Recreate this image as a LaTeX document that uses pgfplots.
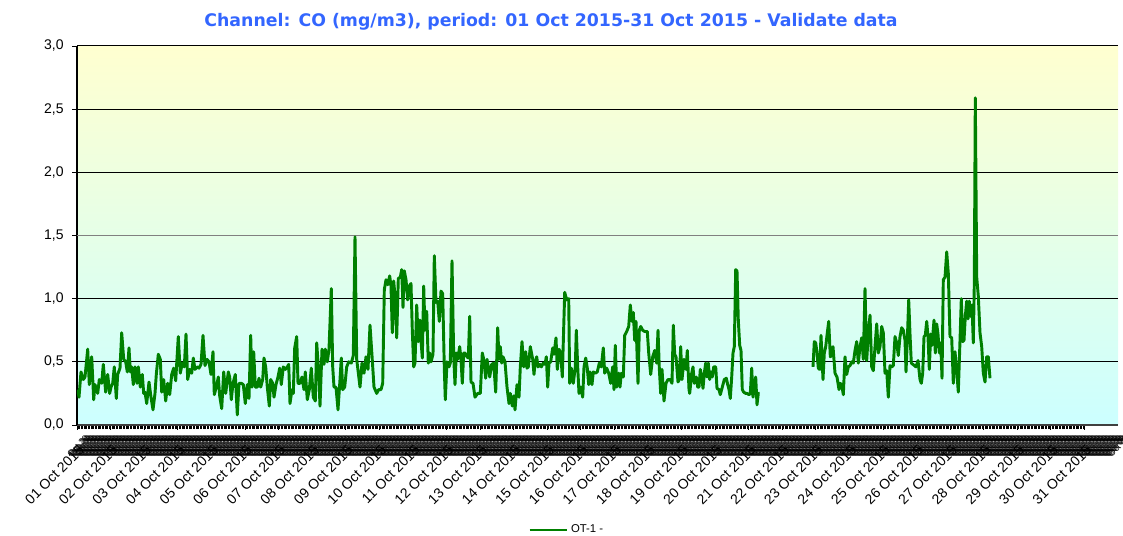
\documentclass[border=0pt]{standalone}
\usepackage{pgfplots}
\pgfplotsset{compat=1.18}
\usepackage{pgfplotstable}
\usepackage{fontspec}
\setmainfont{Liberation Sans}
\newfontfamily\titlefont{DejaVu Sans}
\definecolor{linegreen}{RGB}{0,128,0}
\definecolor{titleblue}{RGB}{51,102,255}
\definecolor{bgtop}{RGB}{255,255,208}
\definecolor{bgbot}{RGB}{204,255,255}

\pgfplotstableread{
px val
77.7 0.28
79 0.22
81 0.42
83.3 0.36
85 0.38
87.7 0.60
89.3 0.32
91.7 0.54
93.7 0.20
95 0.32
97.7 0.25
99.3 0.36
101.7 0.33
103.3 0.48
105.7 0.26
107.7 0.40
109.7 0.25
111 0.30
112.7 0.33
114.3 0.46
116.3 0.21
117.7 0.40
120 0.45
121.7 0.73
123.7 0.52
125.7 0.50
127.3 0.42
129 0.61
130.3 0.42
131.7 0.46
133.3 0.32
135 0.46
137 0.33
138.3 0.46
140.3 0.30
142.3 0.40
143.7 0.25
145 0.26
146.7 0.17
149 0.34
151 0.22
153 0.12
155 0.25
156.3 0.40
158.3 0.56
160.3 0.52
161.7 0.26
163.7 0.36
165.7 0.19
167.7 0.33
169.7 0.24
171.7 0.40
173.7 0.45
175.7 0.35
178.3 0.70
180.3 0.41
182.3 0.49
184.3 0.46
186 0.72
187.7 0.36
189.7 0.44
191.7 0.41
193.3 0.53
195 0.44
197 0.46
199 0.45
201 0.48
203 0.71
205 0.47
207 0.52
209 0.50
211 0.40
213 0.58
214.3 0.24
216.3 0.30
218.3 0.38
219.7 0.23
221.7 0.13
223.7 0.42
225.7 0.25
228.3 0.42
229.7 0.38
231.3 0.20
233 0.33
235.3 0.40
237.3 0.08
239 0.33
241.3 0.33
243.3 0.32
245.3 0.17
247.3 0.32
249 0.21
250.7 0.71
252 0.30
253.7 0.58
255.3 0.30
257.3 0.30
259 0.37
260.7 0.30
262.7 0.36
264 0.53
265.7 0.46
267.3 0.30
269.3 0.15
270.7 0.36
272.7 0.33
274 0.22
276 0.32
278 0.38
279.7 0.45
281.3 0.32
283.3 0.46
285.3 0.44
287.3 0.46
288.7 0.48
290 0.17
292 0.28
293.3 0.25
294.7 0.61
296.7 0.70
298 0.33
300 0.33
302 0.38
304 0.28
305.3 0.42
307.3 0.20
309.3 0.28
311.3 0.45
313.3 0.22
315.3 0.19
316.7 0.65
318.7 0.42
320 0.15
322 0.60
324 0.48
325.3 0.60
327.3 0.50
329 0.60
331.3 1.08
332.7 0.46
334 0.30
336 0.30
338 0.12
340 0.36
341.3 0.53
342.7 0.28
344.7 0.30
346.7 0.46
348.7 0.50
351.3 0.49
353.3 0.55
355 1.49
356.7 0.52
360 0.30
362 0.49
364 0.41
366 0.54
368 0.44
370 0.79
372 0.55
374 0.30
376.7 0.25
378.7 0.28
381 0.28
382.7 0.33
384.3 1.07
386 1.15
387.7 1.11
389.7 1.18
391 1.10
392.3 0.73
393.7 1.14
395 1.02
396.7 0.69
398.3 1.16
400.3 1.17
401.7 1.23
403 0.93
404.3 1.22
406 1.15
407.7 0.99
409.3 1.10
411 1.12
412.3 0.75
413.7 0.46
415 0.49
416.7 0.95
418.3 0.66
420 0.83
421 0.67
422.3 0.53
423.7 1.10
425 0.75
426.7 0.90
428.3 0.49
429.7 0.57
431 0.50
433 0.56
434.3 1.34
436 0.97
437.7 0.98
439.3 0.82
441 1.06
442.7 1.04
444.3 0.45
445.3 0.20
447 0.50
449 0.46
450.3 0.49
452 1.30
453.7 0.54
455 0.32
456.3 0.57
457.7 0.52
459.7 0.62
461 0.52
462.3 0.33
463.7 0.57
465 0.57
467 0.54
468.3 0.53
469.7 0.86
471 0.34
473 0.33
475 0.22
477.7 0.25
480.3 0.25
482.3 0.57
483.7 0.52
485.7 0.37
487 0.52
488.3 0.46
489.7 0.38
491.7 0.48
493.7 0.49
495.7 0.26
497.7 0.77
499 0.52
500.3 0.62
501.7 0.49
503 0.54
505 0.50
507 0.30
509 0.17
510.3 0.25
512.3 0.15
513.7 0.23
515 0.12
517 0.32
519 0.22
520.3 0.46
522 0.66
523.7 0.46
525.7 0.58
527 0.45
528.3 0.46
530.3 0.62
532.7 0.52
534 0.40
535 0.49
536.7 0.54
538 0.46
540 0.48
541.3 0.46
543.3 0.49
545 0.48
546.3 0.54
547.7 0.30
549 0.49
550.7 0.50
552.7 0.61
554 0.56
556 0.69
557.3 0.44
559 0.60
560.7 0.57
562.3 0.38
564.7 1.05
566.7 0.99
568.7 1.00
569.7 0.33
571.3 0.45
573.3 0.33
575.3 0.46
576.3 0.75
577.7 0.46
579 0.25
580.7 0.30
582.7 0.22
584 0.46
585.7 0.53
587.3 0.45
588.7 0.32
590 0.42
592 0.32
593.3 0.42
595.3 0.41
597.3 0.42
599.3 0.49
601.3 0.46
603.3 0.61
604.7 0.41
606.7 0.45
608.7 0.41
610.7 0.33
612.7 0.46
614 0.28
615.3 0.63
616.7 0.30
618.7 0.41
620 0.30
621.3 0.41
623.3 0.38
624.7 0.71
626.7 0.74
628.7 0.78
630.3 0.95
632 0.82
633.3 0.89
634.7 0.67
636 0.82
638 0.33
639.3 0.75
640.7 0.78
642.7 0.75
644.7 0.74
647.3 0.74
648.7 0.57
650.7 0.40
652.7 0.54
654.7 0.59
656.7 0.49
658 0.75
659.3 0.45
660.7 0.25
662 0.44
664 0.19
666 0.33
668 0.36
670 0.36
672 0.33
673.3 0.79
674.7 0.56
676 0.54
678 0.34
679.3 0.36
680.7 0.62
682 0.36
684 0.52
686 0.44
687.3 0.59
689 0.28
689.7 0.25
691.7 0.41
693 0.46
694.3 0.33
696.3 0.38
697.7 0.30
699 0.30
700.3 0.44
701.7 0.38
703 0.29
704.3 0.41
705.7 0.49
707 0.38
708.3 0.49
709.7 0.36
711 0.42
712.3 0.38
713.7 0.46
715.7 0.46
717 0.29
719 0.28
720.3 0.24
722.3 0.30
724.3 0.36
726.3 0.37
727.7 0.32
729 0.28
730.3 0.21
731.7 0.38
733 0.57
734.3 0.62
735.7 1.23
737 1.22
738.3 0.83
739.7 0.63
741 0.59
742.3 0.28
743.7 0.26
745.7 0.25
747 0.25
749 0.24
750.3 0.25
751.7 0.45
753 0.22
754.3 0.30
755.7 0.38
757 0.16
758.3 0.25
759.7 0.25
786 nan
813 0.46
814.3 0.66
815.7 0.65
817 0.57
818.3 0.45
819.7 0.44
821 0.71
823 0.36
824.3 0.57
825.7 0.62
827 0.71
828.7 0.82
830.3 0.54
831.7 0.55
833 0.62
835 0.41
837 0.38
839 0.28
840 0.33
841.7 0.32
843.3 0.24
845 0.54
846.7 0.40
848.3 0.46
850 0.47
851.7 0.50
853.3 0.49
855 0.59
856.7 0.66
858.3 0.49
860 0.62
861.7 0.69
863.3 0.52
865 1.08
866.7 0.51
868.3 0.72
870 0.87
871.7 0.46
873.3 0.43
875 0.62
876.7 0.80
878.3 0.57
880 0.62
881.7 0.78
883.3 0.73
885 0.41
886.7 0.43
888.3 0.22
890 0.47
891.7 0.46
893.3 0.47
895 0.70
896.7 0.65
898.3 0.55
900 0.70
901.7 0.77
903.3 0.75
905 0.67
906 0.42
907.3 0.67
908.7 0.99
910 0.72
911.3 0.49
916 0.46
918 0.51
920 0.36
921.3 0.33
922.7 0.41
924 0.70
925.3 0.71
926.7 0.82
928 0.70
929.3 0.44
930.7 0.72
932 0.63
934 0.83
935.3 0.57
936.7 0.80
938 0.72
939.3 0.57
940.7 0.65
942 0.37
943.3 1.15
945 1.17
946.7 1.37
948.3 1.20
950 0.70
951.7 0.69
953.3 0.33
955 0.58
956.7 0.43
958.3 0.26
960 0.67
961.3 1.00
962.7 0.66
964 0.67
965.3 0.86
966.7 0.98
968 0.84
969.3 0.98
970.7 0.86
972 0.95
973.3 0.65
974.3 1.12
975.3 2.59
976.7 1.17
978.3 1.02
980 0.73
981.7 0.62
983.3 0.41
985 0.34
986.7 0.54
988.3 0.54
990 0.37
}\cotable

\begin{document}
\begin{tikzpicture}
\useasboundingbox (0,0) rectangle (842.25pt,401.25pt);
% hourly labels, overlapping into a dense band
\begin{axis}[
  at={(57.75pt,82.5pt)}, anchor=south west,
  scale only axis, width=780.75pt, height=284.25pt,
  xmin=0, xmax=744, ymin=0, ymax=3,
  axis y line=none, axis x line=bottom,
  x axis line style={draw=none,-},
  xtick={0,1,...,744}, major tick length=0pt,
  xticklabel={\fontsize{6.5}{6.5}\selectfont Oct 20},
  xticklabel style={rotate=45, anchor=east, inner sep=0pt, xshift=-1pt, yshift=-11.5pt},
  ytick=\empty,
]
\addplot[draw=none] coordinates {(0,0)};
\end{axis}
\begin{axis}[
  at={(57.75pt,82.5pt)}, anchor=south west,
  scale only axis, width=780.75pt, height=284.25pt,
  xmin=0, xmax=744, ymin=0, ymax=3,
  axis background/.style={top color=bgtop, bottom color=bgbot},
  axis x line=bottom, axis y line=left,
  x axis line style={-, line width=1.5pt, draw=black!75},
  y axis line style={-, line width=1.1pt, draw=black},
  ytick={0,0.5,...,3}, ymajorgrids,
  grid style={black, line width=0.75pt},
  extra y ticks={1.5}, extra y tick labels={},
  extra y tick style={grid style={black!50, line width=1.3pt}, major tick length=0pt},
  xtick={0,24,...,720},
  xticklabels={01 Oct 2015,02 Oct 2015,03 Oct 2015,04 Oct 2015,05 Oct 2015,06 Oct 2015,07 Oct 2015,08 Oct 2015,09 Oct 2015,10 Oct 2015,11 Oct 2015,12 Oct 2015,13 Oct 2015,14 Oct 2015,15 Oct 2015,16 Oct 2015,17 Oct 2015,18 Oct 2015,19 Oct 2015,20 Oct 2015,21 Oct 2015,22 Oct 2015,23 Oct 2015,24 Oct 2015,25 Oct 2015,26 Oct 2015,27 Oct 2015,28 Oct 2015,29 Oct 2015,30 Oct 2015,31 Oct 2015},
  minor x tick num=23,
  tick align=outside,
  major tick length=3.5pt, minor tick length=3pt,
  tick style={black, line width=0.6pt},
  xticklabel style={font=\fontsize{10.5}{10.5}\selectfont, rotate=45, anchor=east, inner sep=1pt, yshift=-12pt, xshift=-6pt},
  yticklabel style={font=\fontsize{10.5}{10.5}\selectfont, xshift=-3pt, /pgf/number format/.cd, fixed, fixed zerofill, precision=1, use comma, assume math mode=true},
  legend style={at={(0.4707,-0.277)}, anchor=center, draw=none, fill=none, font=\fontsize{8.5}{8.5}\selectfont},
  legend image code/.code={\draw[#1] (0pt,0pt) -- (28pt,0pt);},
  unbounded coords=jump,
]
\addplot[linegreen, line width=2.2pt, line join=round] table[x expr={(\thisrow{px}-77)*0.714697}, y=val] {\cotable};
\addlegendentry{OT-1 -}
\end{axis}
\node[font=\titlefont\bfseries\fontsize{13}{13}\selectfont, text=titleblue] at (413.25pt,384.75pt) {Channel: CO (mg/m3), period: 01 Oct 2015-31 Oct 2015 - Validate data};
\end{tikzpicture}
\end{document}
